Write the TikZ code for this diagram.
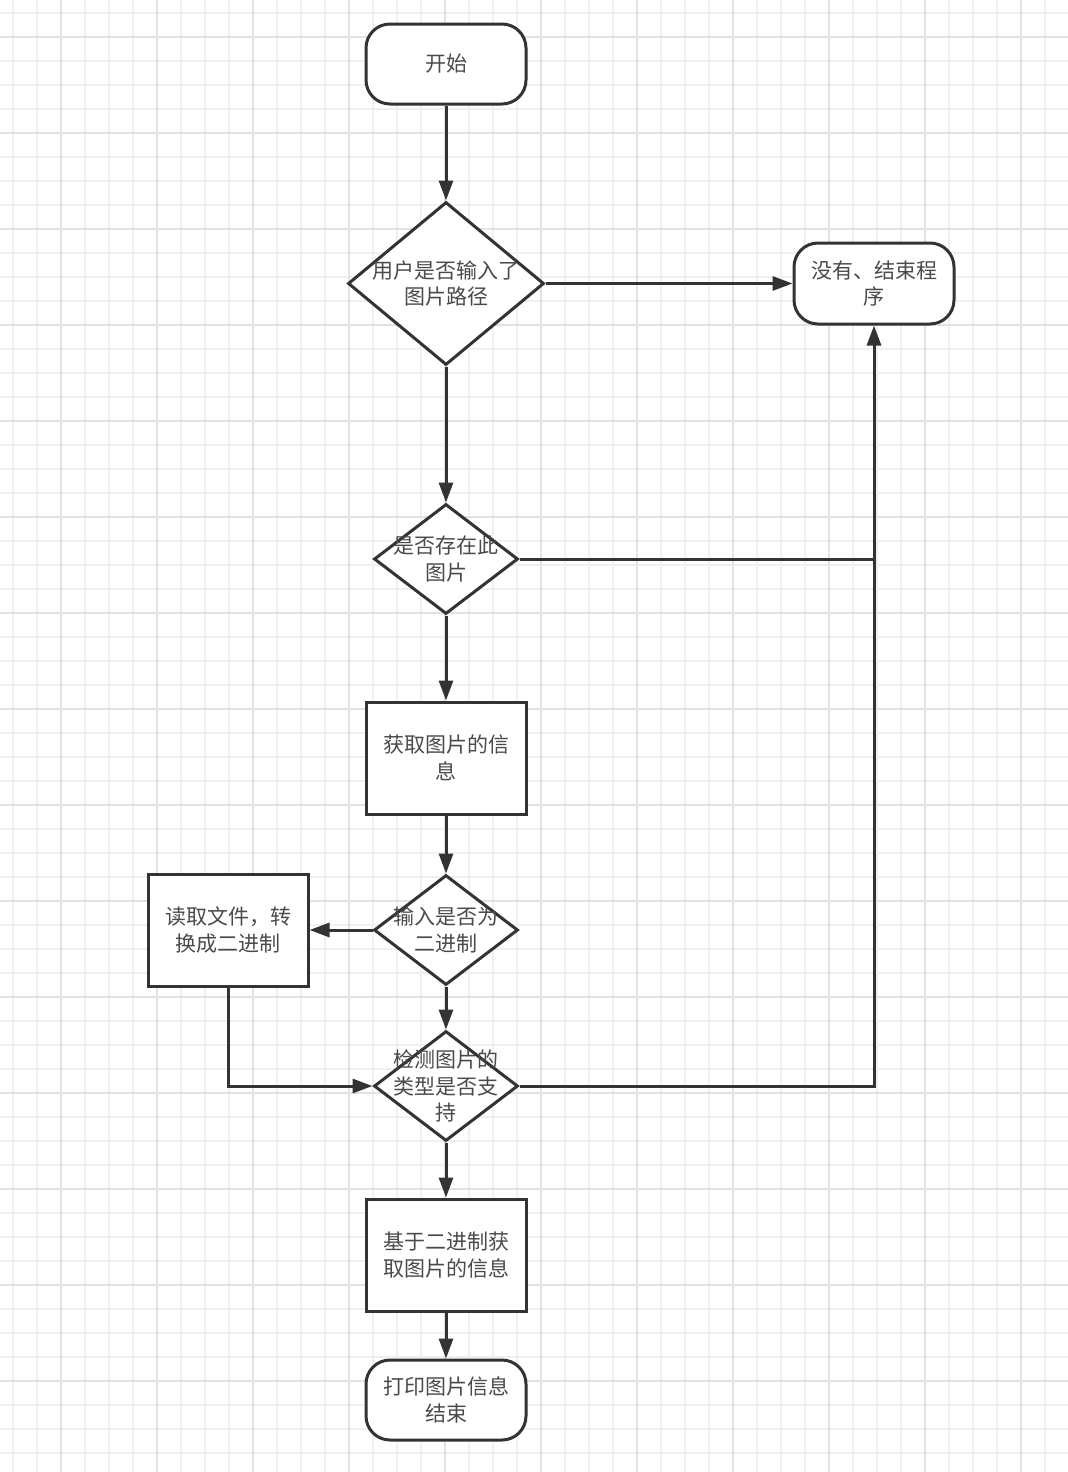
\documentclass[tikz,border=0pt]{standalone}
\usepackage{fontspec}
\newfontfamily\cjk{Noto Sans CJK SC}
\usepackage{xcolor}
\usetikzlibrary{arrows.meta,positioning,shapes.geometric}

\definecolor{edgec}{HTML}{333333}
\definecolor{txtc}{HTML}{4A4A4A}
\definecolor{gridminor}{HTML}{F0F0F0}
\definecolor{gridmajor}{HTML}{E2E2E2}

\begin{document}
\begin{tikzpicture}[
  x=1pt, y=1pt,
  >={Triangle[length=10pt,width=7pt]},
  every node/.style={inner sep=2pt, font=\cjk\fontsize{10.5}{13.3}\selectfont, text=txtc},
  term/.style={draw=edgec, line width=1.5pt, rounded corners=12pt, fill=white, align=center, minimum width=80pt, minimum height=40pt},
  proc/.style={draw=edgec, line width=1.5pt, fill=white, align=center, minimum width=80pt, minimum height=56pt},
  dec/.style={diamond, draw=edgec, line width=1.5pt, fill=white, inner sep=0pt, minimum width=72pt, minimum height=55pt},
  flow/.style={->, draw=edgec, line width=1.5pt},
  plain/.style={draw=edgec, line width=1.5pt},
  gminor/.style={draw=gridminor, line width=0.6pt},
  gmajor/.style={draw=gridmajor, line width=0.7pt}
]

% Page and grid paper
\useasboundingbox[fill=white] (0,0) rectangle (534,-736);
\foreach \i in {0,...,43} \draw[gminor] ({6.5+12*\i},0) -- ++(0,-736);
\foreach \i in {0,...,60} \draw[gminor] (0,{-6.5-12*\i}) -- ++(534,0);
\foreach \i in {0,...,10} \draw[gmajor] ({30.5+48*\i},0) -- ++(0,-736);
\foreach \i in {0,...,14} \draw[gmajor] (0,{-18.5-48*\i}) -- ++(534,0);

% Main column
\node[term] (start) at (223,-32) {开始};
\node[dec, minimum width=98pt, minimum height=81.5pt, below=47.5pt of start,
      label={[align=center]center:用户是否输入了\\图片路径}] (hasPath) {};
\node[term, minimum height=40.5pt, right=123.5pt of hasPath] (quit) {没有、结束程\\序};
\node[dec, below=68pt of hasPath, label={[align=center]center:是否存在此\\图片}] (exists) {};
\node[proc, below=42.5pt of exists] (info) {获取图片的信\\息};
\node[dec, below=29pt of info, label={[align=center]center:输入是否为\\二进制}] (isBin) {};
\node[proc, left=31.5pt of isBin] (toBin) {读取文件，转\\换成二进制};
\node[dec, below=21.5pt of isBin, label={[align=center]center:检测图片的\\类型是否支\\持}] (typeOk) {};
\node[proc, below=27.5pt of typeOk] (parse) {基于二进制获\\取图片的信息};
\node[term, below=23pt of parse] (done) {打印图片信息\\结束};

% Join point on the right-hand return line
\coordinate (join) at (exists.east -| quit.south);

\draw[flow] (start.south) -- (hasPath.north);
\draw[flow] (hasPath.east) -- (quit.west);
\draw[flow] (hasPath.south) -- (exists.north);
\draw[plain] (exists.east) -- (join);
\draw[flow] (exists.south) -- (info.north);
\draw[flow] (info.south) -- (isBin.north);
\draw[flow] (isBin.west) -- (toBin.east);
\draw[flow] (isBin.south) -- (typeOk.north);
\draw[flow] (toBin.south) |- (typeOk.west);
\draw[flow] (typeOk.east) -| (quit.south);
\draw[flow] (typeOk.south) -- (parse.north);
\draw[flow] (parse.south) -- (done.north);

\end{tikzpicture}
\end{document}
